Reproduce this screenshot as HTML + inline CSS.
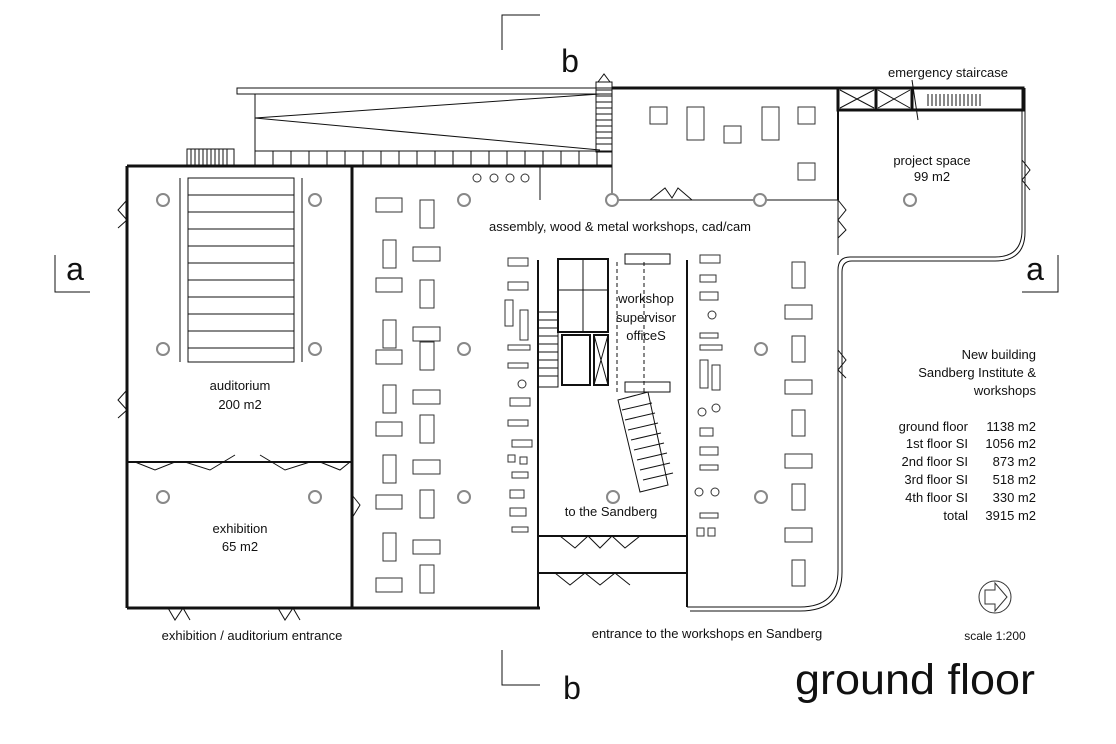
<!DOCTYPE html>
<html><head><meta charset="utf-8"><style>
body{margin:0;background:#fff}
svg{display:block}
text{font-family:"Liberation Sans",sans-serif;fill:#111}
</style></head><body>
<svg width="1116" height="744" viewBox="0 0 1116 744" xmlns="http://www.w3.org/2000/svg">
<g fill="none" stroke="#111" stroke-width="1">
<path d="M502 50 V15 H540"/><path d="M502 650 V685 H540"/>
<path d="M55 255 V292 H90"/><path d="M1058 255 V292 H1022"/>
<rect x="237" y="88" width="375" height="6"/>
<rect x="255" y="94" width="357" height="73"/>
<path d="M255 118 L600 94 M255 118 L600 150"/>
<rect x="255" y="151" width="357" height="16"/>
<path d="M273 151v16M291 151v16M309 151v16M327 151v16M345 151v16M363 151v16M381 151v16M399 151v16M417 151v16M435 151v16M453 151v16M471 151v16M489 151v16M507 151v16M525 151v16M543 151v16M561 151v16M579 151v16M597 151v16"/>
<rect x="596" y="82" width="16" height="70"/>
<path d="M596 90h16M596 96h16M596 102h16M596 108h16M596 114h16M596 120h16M596 126h16M596 132h16M596 138h16M596 144h16"/>
<path d="M598 82 L604 74 L610 82"/>
<rect x="187" y="149" width="47" height="16"/>
<path d="M191 149v16M195 149v16M199 149v16M203 149v16M207 149v16M211 149v16M215 149v16M219 149v16M223 149v16M227 149v16"/>
<g stroke-width="3">
<path d="M127 166 H612"/>
<path d="M127 166 V608"/>
<path d="M352 166 V608"/>
<path d="M127 608 H540"/>
<path d="M612 88 H1022"/>
<path d="M838 88 V200" stroke-width="2"/>
</g>
<path d="M612 88 V200 H838 M838 200 V255 M1022 88 V230 Q1022 257 995 257 H850 Q838 257 838 270 V570 Q838 607 800 607 H687"/>
<path d="M1025 88 V232 Q1025 261 995 261 H852 Q842 261 842 272 V572 Q842 611 800 611 H690"/>
<path d="M540 166 V200 M612 167 V200"/>
<rect x="838" y="88" width="185" height="22" stroke-width="3"/>
<path d="M876 88v22M912 88v22" stroke-width="3"/>
<path d="M840 90 L874 108 M874 90 L840 108 M878 90 L910 108 M910 90 L878 108"/>
<path d="M928 94v12M932 94v12M936 94v12M940 94v12M944 94v12M948 94v12M952 94v12M956 94v12M960 94v12M964 94v12M968 94v12M972 94v12M976 94v12M980 94v12"/>
<path d="M912 80 L918 120"/>
<path d="M650 200 L665 188 L672 198 L678 188 L692 200"/>
<path d="M838 200 L846 210 L838 220 L846 230 L838 238"/>
<path d="M127 462 H352" stroke-width="2"/>
<path d="M135 462 L155 470 L175 462 M185 462 L210 470 L235 455 M260 455 L285 470 L310 462 M320 462 L340 470 L350 462"/>
<path d="M127 200 L118 210 L127 220 L118 228 M127 390 L118 400 L127 410 L118 418 M352 495 L360 505 L352 518 M838 350 L846 360 L838 370 L846 378 M1022 160 L1030 170 L1022 180 L1030 190"/>
<path d="M168 608 L175 620 L183 608 L190 620 M278 608 L285 620 L293 608 L300 620"/>
<rect x="188" y="178" width="106" height="184"/>
<path d="M188 195h106M188 212h106M188 229h106M188 246h106M188 263h106M188 280h106M188 297h106M188 314h106M188 331h106M188 348h106"/>
<path d="M180 178v184M302 178v184"/>
<path d="M538 260 V536 M687 260 V536 M538 536 H687 M538 573 H687 M538 536 V607 M687 536 V607" stroke-width="2"/>
<path d="M560 536 L575 548 L588 536 L600 548 L612 536 L625 548 L640 536"/>
<path d="M555 573 L570 585 L585 573 L600 585 L615 573 L630 585"/>
<rect x="558" y="259" width="50" height="73" stroke-width="2"/>
<path d="M558 290h50M583 259v73"/>
<rect x="562" y="335" width="28" height="50" stroke-width="2"/>
<rect x="594" y="335" width="14" height="50" stroke-width="2"/>
<path d="M594 335 L608 385 M608 335 L594 385"/>
<rect x="538" y="312" width="20" height="75"/>
<path d="M538 320h20M538 328h20M538 336h20M538 344h20M538 352h20M538 360h20M538 368h20M538 376h20"/>
<path d="M618 400 L648 392 L668 485 L640 492 Z"/>
<path d="M622 410l30-7M625 420l30-7M628 430l30-7M631 440l30-7M634 450l30-7M637 460l30-7M640 470l30-7M643 480l30-7"/>
<rect x="625" y="254" width="45" height="10"/><rect x="625" y="382" width="45" height="10"/>
<path d="M617 262 V395 M644 262 V395" stroke-dasharray="4 3"/>
</g>
<g fill="#fff" stroke="#888" stroke-width="2">
<circle cx="163" cy="200" r="6"/><circle cx="315" cy="200" r="6"/>
<circle cx="163" cy="349" r="6"/><circle cx="315" cy="349" r="6"/>
<circle cx="163" cy="497" r="6"/><circle cx="315" cy="497" r="6"/>
<circle cx="464" cy="200" r="6"/><circle cx="464" cy="349" r="6"/><circle cx="464" cy="497" r="6"/>
<circle cx="612" cy="200" r="6"/><circle cx="760" cy="200" r="6"/>
<circle cx="761" cy="349" r="6"/><circle cx="761" cy="497" r="6"/>
<circle cx="910" cy="200" r="6"/><circle cx="613" cy="497" r="6"/>
</g>
<g fill="none" stroke="#333" stroke-width="1">
<circle cx="477" cy="178" r="4"/><circle cx="494" cy="178" r="4"/><circle cx="510" cy="178" r="4"/><circle cx="525" cy="178" r="4"/>
<rect x="376" y="198" width="26" height="14"/><rect x="420" y="200" width="14" height="28"/>
<rect x="383" y="240" width="13" height="28"/><rect x="413" y="247" width="27" height="14"/>
<rect x="376" y="278" width="26" height="14"/><rect x="420" y="280" width="14" height="28"/>
<rect x="383" y="320" width="13" height="28"/><rect x="413" y="327" width="27" height="14"/>
<rect x="376" y="350" width="26" height="14"/><rect x="420" y="342" width="14" height="28"/>
<rect x="383" y="385" width="13" height="28"/><rect x="413" y="390" width="27" height="14"/>
<rect x="376" y="422" width="26" height="14"/><rect x="420" y="415" width="14" height="28"/>
<rect x="383" y="455" width="13" height="28"/><rect x="413" y="460" width="27" height="14"/>
<rect x="376" y="495" width="26" height="14"/><rect x="420" y="490" width="14" height="28"/>
<rect x="383" y="533" width="13" height="28"/><rect x="413" y="540" width="27" height="14"/>
<rect x="420" y="565" width="14" height="28"/><rect x="376" y="578" width="26" height="14"/>
<rect x="508" y="258" width="20" height="8"/><rect x="508" y="282" width="20" height="8"/><rect x="505" y="300" width="8" height="26"/><rect x="520" y="310" width="8" height="30"/>
<rect x="508" y="345" width="22" height="5"/><rect x="508" y="363" width="20" height="5"/><circle cx="522" cy="384" r="4"/>
<rect x="510" y="398" width="20" height="8"/><rect x="508" y="420" width="20" height="6"/><rect x="512" y="440" width="20" height="7"/>
<rect x="508" y="455" width="7" height="7"/><rect x="520" y="457" width="7" height="7"/><rect x="512" y="472" width="16" height="6"/>
<rect x="510" y="490" width="14" height="8"/><rect x="510" y="508" width="16" height="8"/><rect x="512" y="527" width="16" height="5"/>
<rect x="700" y="255" width="20" height="8"/><rect x="700" y="275" width="16" height="7"/><rect x="700" y="292" width="18" height="8"/><circle cx="712" cy="315" r="4"/>
<rect x="700" y="333" width="18" height="5"/><rect x="700" y="345" width="22" height="5"/><rect x="700" y="360" width="8" height="28"/><rect x="712" y="365" width="8" height="25"/>
<circle cx="702" cy="412" r="4"/><circle cx="716" cy="408" r="4"/><rect x="700" y="428" width="13" height="8"/>
<rect x="700" y="447" width="18" height="8"/><rect x="700" y="465" width="18" height="5"/><circle cx="699" cy="492" r="4"/><circle cx="715" cy="492" r="4"/>
<rect x="700" y="513" width="18" height="5"/><rect x="697" y="528" width="7" height="8"/><rect x="708" y="528" width="7" height="8"/>
<rect x="792" y="262" width="13" height="26"/><rect x="785" y="305" width="27" height="14"/><rect x="792" y="336" width="13" height="26"/>
<rect x="785" y="380" width="27" height="14"/><rect x="792" y="410" width="13" height="26"/><rect x="785" y="454" width="27" height="14"/>
<rect x="792" y="484" width="13" height="26"/><rect x="785" y="528" width="27" height="14"/><rect x="792" y="560" width="13" height="26"/>
<rect x="650" y="107" width="17" height="17"/><rect x="687" y="107" width="17" height="33"/><rect x="724" y="126" width="17" height="17"/>
<rect x="762" y="107" width="17" height="33"/><rect x="798" y="107" width="17" height="17"/><rect x="798" y="163" width="17" height="17"/>
<circle cx="995" cy="597" r="16"/><path d="M985 590 H995 V583 L1007 597 L995 611 V604 H985 Z"/>
</g>
<g font-size="13" text-anchor="middle">
<text x="570" y="72" font-size="32">b</text>
<text x="572" y="699" font-size="32">b</text>
<text x="75" y="280" font-size="32">a</text>
<text x="1035" y="280" font-size="32">a</text>
<text x="948" y="77">emergency staircase</text>
<text x="932" y="165">project space</text><text x="932" y="181">99 m2</text>
<text x="620" y="231">assembly, wood &amp; metal workshops, cad/cam</text>
<text x="646" y="303">workshop</text><text x="646" y="322">supervisor</text><text x="646" y="340">officeS</text>
<text x="611" y="516">to the Sandberg</text>
<text x="240" y="390">auditorium</text><text x="240" y="409">200 m2</text>
<text x="240" y="533">exhibition</text><text x="240" y="551">65 m2</text>
<text x="252" y="640">exhibition / auditorium entrance</text>
<text x="707" y="638">entrance to the workshops en Sandberg</text>
<text x="995" y="640" font-size="12">scale 1:200</text>
</g>
<g font-size="13" text-anchor="end">
<text x="1036" y="359">New building</text><text x="1036" y="377">Sandberg Institute &amp;</text><text x="1036" y="395">workshops</text>
<text x="968" y="431">ground floor</text><text x="1036" y="431">1138 m2</text>
<text x="968" y="448">1st floor SI</text><text x="1036" y="448">1056 m2</text>
<text x="968" y="466">2nd floor SI</text><text x="1036" y="466">873 m2</text>
<text x="968" y="484">3rd floor SI</text><text x="1036" y="484">518 m2</text>
<text x="968" y="502">4th floor SI</text><text x="1036" y="502">330 m2</text>
<text x="968" y="520">total</text><text x="1036" y="520">3915 m2</text>
</g>
<text x="795" y="694" font-size="43" textLength="240" lengthAdjust="spacingAndGlyphs">ground floor</text>
</svg>
</body></html>
